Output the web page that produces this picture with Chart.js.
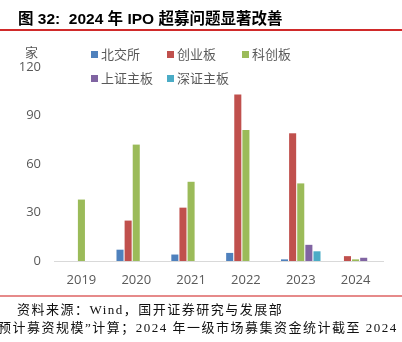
<!DOCTYPE html>
<html>
<head>
<meta charset="utf-8">
<script src="https://cdn.jsdelivr.net/npm/chart.js@4/dist/chart.umd.min.js"></script>
<style>
  html, body { margin: 0; padding: 0; background: #fff; }
  #wrap { position: relative; width: 402px; height: 342px; overflow: hidden; }
  #c { position: absolute; left: 0; top: 0; }
  .title { position: absolute; left: 18px; top: 6px; font: bold 15.5px "Liberation Sans", "Noto Sans CJK SC", sans-serif; color: #000; white-space: nowrap; }
  .line-top { position: absolute; left: 0; top: 29px; width: 402px; height: 1.5px; background: #d02a2a; }
  .line-bot { position: absolute; left: 0; top: 295px; width: 402px; height: 1.5px; background: #e68a8a; }
  .unit { position: absolute; left: 25px; top: 42px; font: 13px "Noto Sans CJK SC", sans-serif; color: #595959; }
  .leg { position: absolute; font: 13px "Noto Sans CJK SC", sans-serif; color: #595959; white-space: nowrap; line-height: 16px; }
  .leg i { display: inline-block; width: 7px; height: 7px; margin-right: 3px; vertical-align: 1px; }
  .foot { position: absolute; font: 13px "Liberation Serif", "Noto Sans CJK SC", serif; color: #111; white-space: nowrap; letter-spacing: 1.5px; }
</style>
</head>
<body>
<div id="wrap">
  <canvas id="c" width="402" height="342"></canvas>
  <div class="title">图 32:&nbsp; 2024 年 IPO 超募问题显著改善</div>
  <div class="line-top"></div>
  <div class="unit">家</div>
  <div id="legend"></div>
  <div class="line-bot"></div>
  <div class="foot" style="left:17px; top:299px;">资料来源：Wind，国开证券研究与发展部</div>
  <div class="foot" style="left:-2px; top:317px;">预计募资规模”计算；2024 年一级市场募集资金统计截至 2024</div>
</div>
<script>
const years = ['2019', '2020', '2021', '2022', '2023', '2024']
const seriesNames = ['北交所', '创业板', '科创板', '上证主板', '深证主板']
const bjs = [null, 7, 4, 5, 1, null]
const cyb = [null, 25, 33, 103, 79, 3]
const kcb = [38, 72, 49, 81, 48, 1]
const shzb = [null, null, null, null, 10, 2]
const szzb = [null, null, null, null, 6, null]
const yTicks = [0, 30, 60, 90, 120]

const colors = ['#4f81bd', '#c0504d', '#9bbb59', '#8064a2', '#4bacc6']
const values = [bjs, cyb, kcb, shzb, szzb]

// legend laid out as a fixed grid like the original
const legendPos = [[91, 46], [167, 46], [242, 46], [91, 70], [167, 70]]
const legendEl = document.getElementById('legend')
seriesNames.forEach((name, i) => {
  const d = document.createElement('div')
  d.className = 'leg'
  d.style.left = legendPos[i][0] + 'px'
  d.style.top = legendPos[i][1] + 'px'
  d.innerHTML = `<i style="background:${colors[i]}"></i>${name}`
  legendEl.appendChild(d)
})

const ctx = document.getElementById('c').getContext('2d')
new Chart(ctx, {
  type: 'bar',
  data: {
    labels: years,
    datasets: seriesNames.map((name, i) => ({
      label: name,
      data: values[i],
      backgroundColor: colors[i],
      categoryPercentage: 0.74,
      barPercentage: 0.87,
    })),
  },
  options: {
    responsive: false,
    animation: false,
    layout: {
      padding: { top: 67, right: 19, bottom: 51, left: 0 },
    },
    plugins: {
      legend: { display: false },
      tooltip: { enabled: false },
    },
    scales: {
      x: {
        grid: { display: false, drawTicks: false },
        border: { display: true, color: '#d9d9d9', width: 1 },
        ticks: {
          color: '#595959',
          padding: 11,
          font: { family: "'Open Sans', 'Noto Sans', sans-serif", size: 13 },
        },
        afterFit: (scale) => { scale.height = 30 },
      },
      y: {
        min: 0,
        max: 120,
        afterBuildTicks: (scale) => { scale.ticks = yTicks.map((v) => ({ value: v })) },
        grid: { display: false, drawTicks: false },
        border: { display: false },
        ticks: {
          color: '#595959',
          padding: 13,
          font: { family: "'Open Sans', 'Noto Sans', sans-serif", size: 13 },
        },
        afterFit: (scale) => { scale.width = 54 },
      },
    },
  },
})
</script>
</body>
</html>
